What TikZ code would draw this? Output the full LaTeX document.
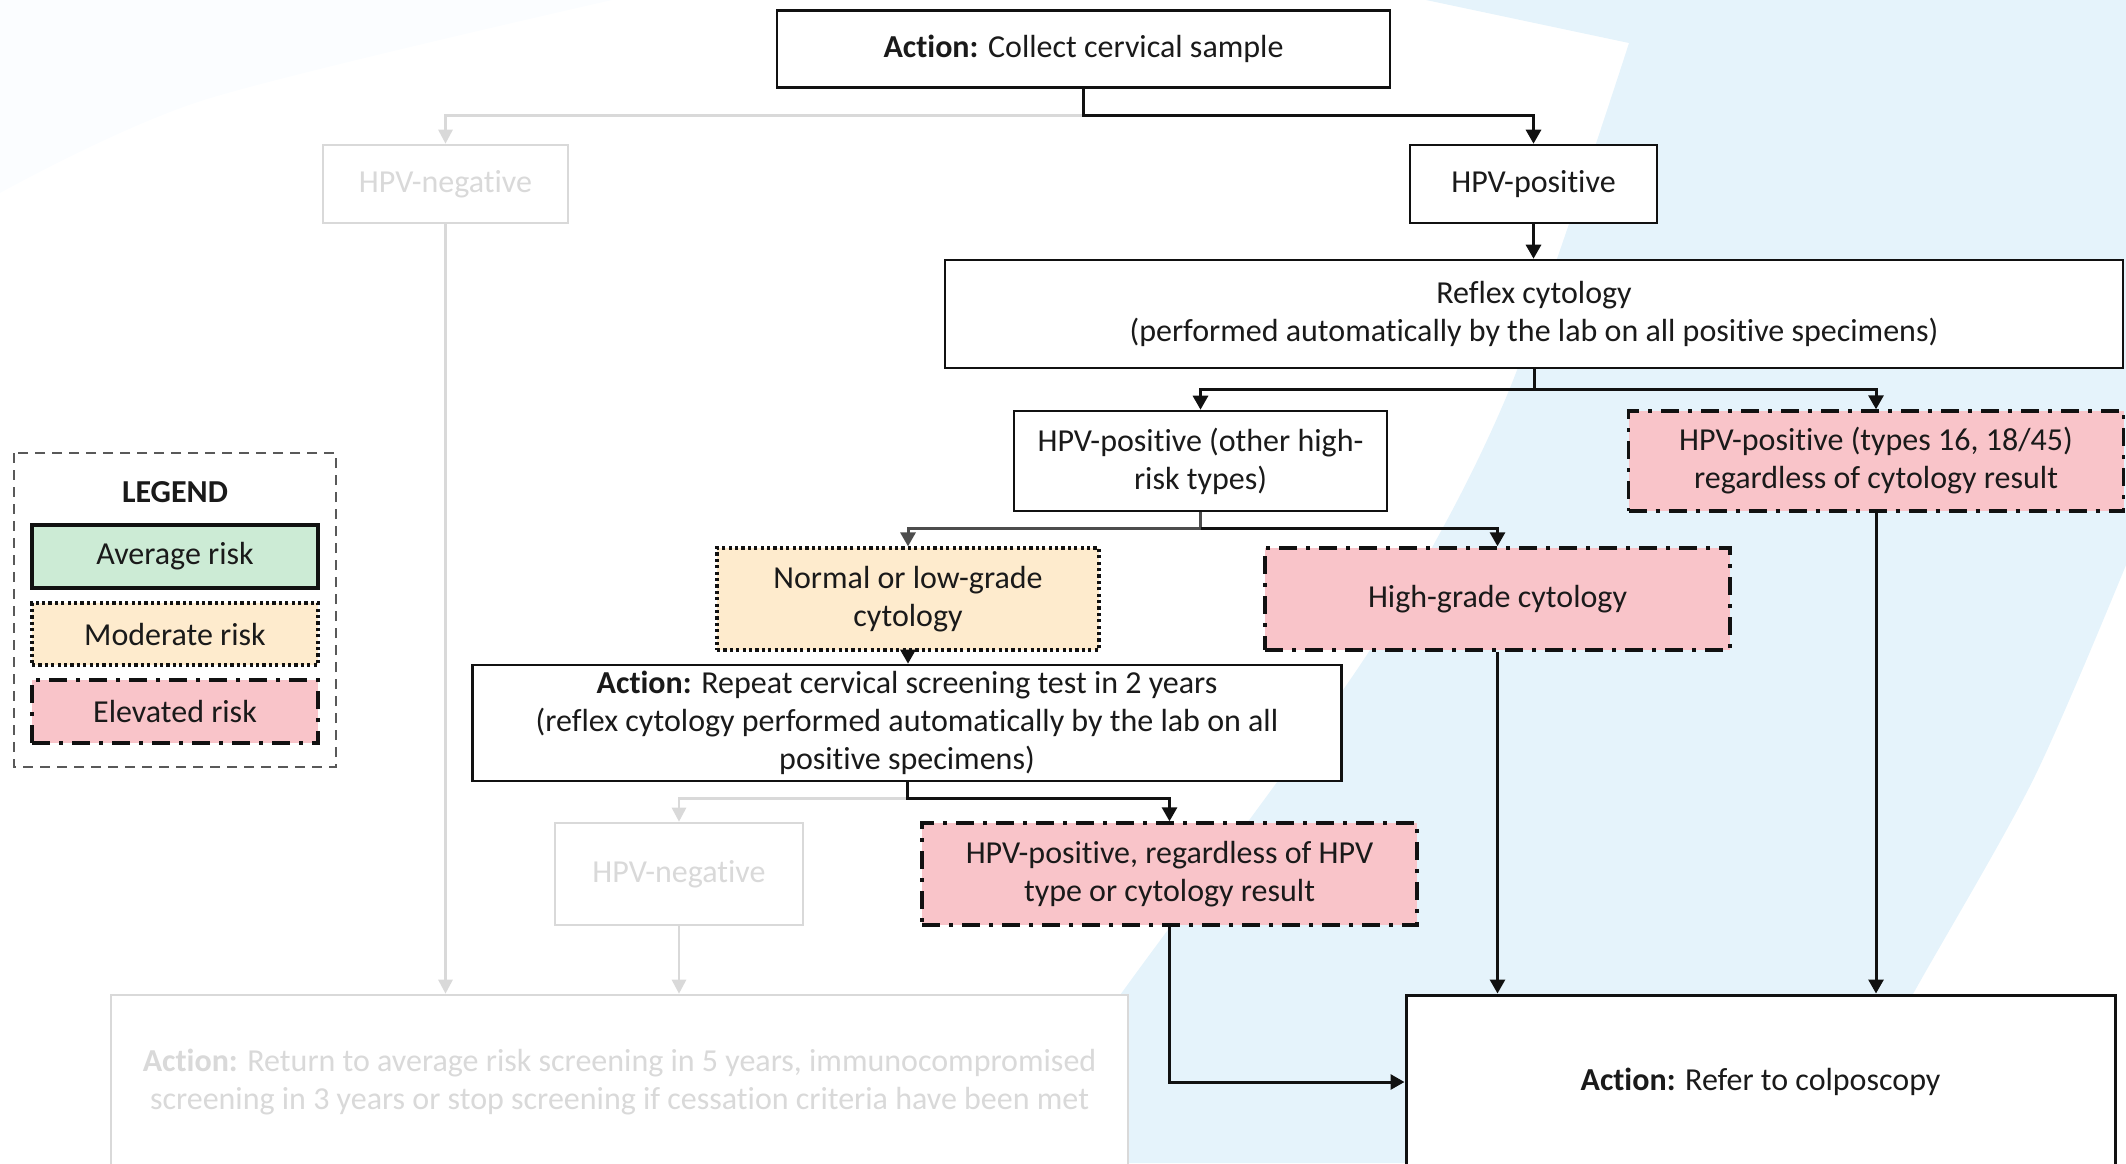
\documentclass[tikz,border=0pt]{standalone}
\usepackage{fontspec}
\setmainfont[Ligatures=NoCommon]{Carlito}
\usetikzlibrary{arrows.meta,calc}
\definecolor{CervInk}{HTML}{111111}
\definecolor{CervText}{HTML}{1A1A1A}
\definecolor{CervGrey}{HTML}{4D4D4D}
\definecolor{CervMute}{HTML}{D9D9D9}
\definecolor{CervPink}{HTML}{F9C4C9}
\definecolor{CervCream}{HTML}{FEEBCD}
\definecolor{CervMint}{HTML}{CCEBD5}
\definecolor{CervSky}{HTML}{E5F3FB}
\definecolor{CervMist}{HTML}{FBFDFF}
\definecolor{CervFrame}{HTML}{595959}

\begin{document}
\begin{tikzpicture}[x=0.5pt,y=-0.5pt,
  every node/.style={font=\fontsize{16}{19}\selectfont,text=CervText,
    align=center,inner sep=0pt},
  plainbox/.style={draw=CervInk,line width=1.3pt,fill=white},
  mutebox/.style={draw=CervMute,line width=1.3pt,fill=white,text=CervMute},
  elevbox/.style={draw=CervInk,line width=1.7pt,fill=CervPink,
    dash pattern=on 9pt off 4.5pt on 2pt off 4.5pt},
  modbox/.style={draw=CervInk,line width=1.6pt,fill=CervCream,
    dash pattern=on 1.6pt off 1.6pt},
  avgbox/.style={draw=CervInk,line width=2pt,fill=CervMint},
  inkarrow/.style={draw=CervInk,line width=1.5pt,
    -{Triangle[length=7pt,width=7.5pt]}},
  greyarrow/.style={inkarrow,draw=CervGrey},
  mutearrow/.style={draw=CervMute,line width=1.4pt,
    -{Triangle[length=7pt,width=7pt]}}]

  \useasboundingbox (0,0) rectangle (2126,1163);
  \clip (0,0) rectangle (2126,1163);

  % background swoosh
  \fill[CervMist] (0,0) -- (612,0)
    -- plot[smooth] coordinates {(612,0) (204,100) (0,193)} -- cycle;
  \fill[CervSky] (1426,0) -- (2126,0) -- (2126,565)
    -- plot[smooth] coordinates {(2126,565) (2033,780) (1913,994) (1820,1163)}
    -- (1000,1163)
    -- plot[smooth] coordinates {(1000,1163) (1123,991) (1370,650) (1505,400) (1629,43)}
    -- cycle;

  % legend
  \draw[CervFrame,line width=1pt,dash pattern=on 5pt off 3.5pt]
    (14,453) rectangle (336,767);
  \node[font=\fontsize{16}{19}\selectfont\bfseries] (legend) at (175,492) {LEGEND};
  \node[avgbox,minimum width=143pt,minimum height=31.5pt] (avg) at (175,556.5) {Average risk};
  \node[modbox,minimum width=143pt,minimum height=31pt] (mod) at (175,634) {Moderate risk};
  \node[elevbox,minimum width=143pt,minimum height=31.5pt] (elev) at (175,711.5) {Elevated risk};

  % flow boxes
  \node[plainbox,minimum width=306.5pt,minimum height=38.5pt] (collect) at (1083.5,49)
    {\textbf{Action:} Collect cervical sample};
  \node[mutebox,minimum width=122.5pt,minimum height=39pt] (hpvneg) at (445.5,184) {HPV-negative};
  \node[plainbox,minimum width=123.5pt,minimum height=39pt] (hpvpos) at (1533.5,184) {HPV-positive};
  \node[plainbox,minimum width=589pt,minimum height=54pt] (reflex) at (1534,314)
    {Reflex cytology\\(performed automatically by the lab on all positive specimens)};
  \node[plainbox,minimum width=186.5pt,minimum height=50pt] (other) at (1200.5,461)
    {HPV-positive (other high-\\risk types)};
  \node[elevbox,minimum width=247.5pt,minimum height=50pt] (hr1645) at (1876,461)
    {HPV-positive (types 16, 18/45)\\regardless of cytology result};
  \node[modbox,minimum width=191pt,minimum height=51pt] (normal) at (908,599)
    {Normal or low-grade\\cytology};
  \node[elevbox,minimum width=232.5pt,minimum height=51pt] (high) at (1497.5,599)
    {High-grade cytology};
  \node[plainbox,minimum width=434.5pt,minimum height=58pt] (repeat) at (907,723)
    {\textbf{Action:} Repeat cervical screening test in 2 years\\
     (reflex cytology performed automatically by the lab on all\\positive specimens)};
  \node[mutebox,minimum width=124pt,minimum height=51pt] (hpvneg2) at (679,874) {HPV-negative};
  \node[elevbox,minimum width=247.5pt,minimum height=51pt] (regardless) at (1169.5,874)
    {HPV-positive, regardless of HPV\\type or cytology result};
  \node[mutebox,minimum width=508.5pt,minimum height=87pt] (ret) at (619.5,1082)
    {\textbf{Action:} Return to average risk screening in 5 years, immunocompromised\\
     screening in 3 years or stop screening if cessation criteria have been met};
  \node[plainbox,line width=1.5pt,minimum width=354.5pt,minimum height=87pt] (colpo) at (1760.5,1082)
    {\textbf{Action:} Refer to colposcopy};

  % junctions
  \coordinate (jcollect) at ($(collect.south)+(0,27)$);
  \coordinate (jreflex) at ($(reflex.south)+(0,20)$);
  \coordinate (jother) at ($(other.south)+(0,16)$);
  \coordinate (jrepeat) at ($(repeat.south)+(0,16)$);

  % faded branches
  \draw[mutearrow] (jcollect) -| (hpvneg.north);
  \draw[mutearrow] (jrepeat) -| (hpvneg2.north);
  \draw[mutearrow] (hpvneg.south) -- (hpvneg.south |- ret.north);
  \draw[mutearrow] (hpvneg2.south) -- (hpvneg2.south |- ret.north);

  % active branches
  \draw[inkarrow] (collect.south) -- (jcollect) -| (hpvpos.north);
  \draw[inkarrow] (hpvpos.south) -- (hpvpos.south |- reflex.north);
  \draw[inkarrow] (reflex.south) -- (jreflex) -| (other.north);
  \draw[inkarrow] (jreflex) -| (hr1645.north);
  \draw[greyarrow] (other.south) -- (jother) -| (normal.north);
  \draw[inkarrow] (jother) -| (high.north);
  \draw[inkarrow] (normal.south) -- (normal.south |- repeat.north);
  \draw[inkarrow] (repeat.south) -- (jrepeat) -| (regardless.north);
  \draw[inkarrow] (high.south) -- (high.south |- colpo.north);
  \draw[inkarrow] (hr1645.south) -- (hr1645.south |- colpo.north);
  \draw[inkarrow] (regardless.south) |- (colpo.west);
\end{tikzpicture}
\end{document}
